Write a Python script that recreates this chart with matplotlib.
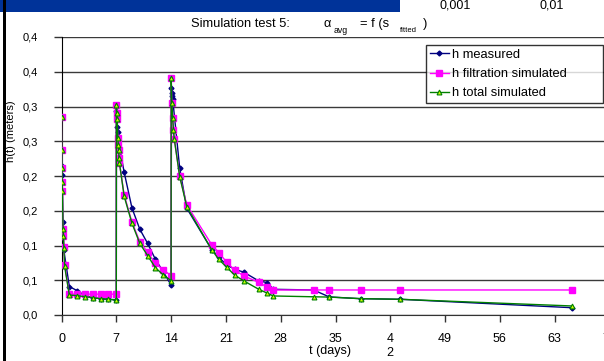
import matplotlib.pyplot as plt
from matplotlib.patches import Rectangle

plt.rcParams['font.family'] = ['Liberation Sans', 'DejaVu Sans']

# ----------------------------------------
# data
# ----------------------------------------
t_meas = [0.0, 0.04, 0.08, 0.18, 0.22, 0.3, 1, 2, 3, 4, 5, 6, 7,
          7.02, 7.06, 7.12, 7.18, 7.25, 8, 9, 10, 11, 12, 13, 14,
          14.05, 14.1, 14.15, 14.2, 15.1, 16, 19.2, 20.1, 21.1, 22.1,
          23.3, 25.2, 26.3, 27.05, 32.2, 34.2, 38.2, 43.3, 65.2]
h_meas = [0.237, 0.215, 0.202, 0.134, 0.118, 0.093, 0.041, 0.035, 0.028,
          0.025, 0.0235, 0.0225, 0.022,
          0.293, 0.281, 0.270, 0.263, 0.252, 0.2056, 0.154, 0.1235, 0.103,
          0.080, 0.0624, 0.043,
          0.327, 0.320, 0.3156, 0.311, 0.211, 0.1537, 0.0937, 0.083, 0.072,
          0.066, 0.0615, 0.049, 0.0466, 0.037, 0.036, 0.026, 0.0235, 0.0226,
          0.0105]

t_sim = [0.0, 0.03, 0.06, 0.09, 0.12, 0.2, 0.25, 0.3, 0.4, 1, 2, 3, 4, 5, 6, 7,
         7.01, 7.05, 7.1, 7.2, 7.25, 7.3, 7.35, 7.4, 8, 9, 10, 11, 12, 13, 14,
         14.01, 14.1, 14.2, 14.3, 14.4, 15.1, 16, 19.2, 20.1, 21.1, 22.1, 23.3,
         25.2, 26.3, 27.05, 32.2, 34.2, 38.2, 43.3, 65.2]
h_filt = [0.285, 0.238, 0.212, 0.192, 0.179, 0.1235, 0.113, 0.098, 0.072,
          0.030, 0.030, 0.030, 0.030, 0.030, 0.030, 0.030,
          0.302, 0.291, 0.282, 0.255, 0.245, 0.238, 0.226, 0.219, 0.173,
          0.1336, 0.1056, 0.090, 0.0745, 0.065, 0.0566,
          0.341, 0.305, 0.283, 0.2666, 0.2536, 0.200, 0.1585, 0.1009, 0.0898,
          0.076, 0.0648, 0.0562, 0.047, 0.0399, 0.036, 0.036, 0.036, 0.036,
          0.036, 0.036]
h_total = [0.285, 0.238, 0.212, 0.192, 0.179, 0.1235, 0.113, 0.097, 0.070,
           0.0288, 0.0278, 0.0264, 0.025, 0.0235, 0.0226, 0.0216,
           0.302, 0.291, 0.282, 0.255, 0.245, 0.238, 0.226, 0.219, 0.171,
           0.132, 0.103, 0.0855, 0.068, 0.0576, 0.0494,
           0.341, 0.305, 0.283, 0.2666, 0.2536, 0.199, 0.156, 0.0937, 0.080,
           0.0687, 0.0576, 0.049, 0.037, 0.0313, 0.0274, 0.0262, 0.0258,
           0.0235, 0.0226, 0.013]

x_ticks = [0, 7, 14, 21, 28, 35, 42, 49, 56, 63, 70]
x_labels = ['0', '7', '14', '21', '28', '35', '4\n2', '49', '56', '63', '70']
y_ticks = [0.0, 0.05, 0.10, 0.15, 0.20, 0.25, 0.30, 0.35, 0.40]
y_labels = ['0,0', '0,1', '0,1', '0,2', '0,2', '0,3', '0,3', '0,4', '0,4']

W, H = 604, 361


def fx(px):
    return px / W


def fy(py):
    return 1 - py / H


# ----------------------------------------
# figure
# ----------------------------------------
fig = plt.figure(figsize=(W / 100, H / 100), dpi=100)
ax = fig.add_axes([fx(61.5), fy(315), (609.5 - 61.5) / W, (315 - 37) / H])

ax.plot(t_meas, h_meas, color='#000080', lw=1, marker='D', ms=2.5,
        mfc='#000080', mec='#000080', label='h measured', zorder=3)
ax.plot(t_sim, h_filt, color='#ff00ff', lw=1, marker='s', ms=4,
        mfc='#ff00ff', mec='#ff00ff', label='h filtration simulated', zorder=4)
ax.plot(t_sim, h_total, color='#008000', lw=1, marker='^', ms=3.5,
        mfc='#ccff00', mec='#008000', mew=0.8, label='h total simulated',
        zorder=5)

ax.set_xlim(0, 70)
ax.set_ylim(0, 0.4)
ax.set_xticks(x_ticks)
ax.set_xticklabels(x_labels, fontsize=9, linespacing=1.2)
ax.set_yticks(y_ticks)
ax.set_yticklabels(y_labels, fontsize=8)
ax.tick_params(axis='x', length=5, width=1, pad=8, color='#333333')
ax.tick_params(axis='y', length=6, width=1, pad=11, color='#333333')

ax.grid(axis='y', color='#3a3a3a', lw=1)
ax.set_axisbelow(True)
for side in ['top', 'right']:
    ax.spines[side].set_visible(False)
ax.spines['left'].set_color('black')
ax.spines['bottom'].set_color('#333333')

leg = ax.legend(loc='upper left', mode='expand',
                bbox_to_anchor=(fx(425.7), fy(106), 177 / W, 61 / H),
                bbox_transform=fig.transFigure, fontsize=9.3,
                frameon=True, fancybox=False, edgecolor='black',
                borderpad=0.3, labelspacing=0.55, handlelength=1.5,
                handletextpad=0.2, borderaxespad=0)
leg.get_frame().set_linewidth(1)

# title with sub-scripts
fig.text(fx(191), fy(24), 'Simulation test 5:', fontsize=9.3, va='center')
fig.text(fx(323.5), fy(24), '\u03b1', fontsize=9.3, va='center')
fig.text(fx(334), fy(30.5), 'avg', fontsize=6.3, va='center')
fig.text(fx(360), fy(24), '= f (s', fontsize=9.3, va='center')
fig.text(fx(399.5), fy(31), 'fitted', fontsize=5.5, va='center')
fig.text(fx(422.5), fy(24), ')', fontsize=9.3, va='center')

fig.text(fx(330), fy(351), 't (days)', fontsize=9, ha='center', va='center')
fig.text(fx(11.5), fy(131), 'h(t) (meters)', fontsize=8, rotation=90,
         ha='center', va='center')

# leftovers of the neighbouring chart
fig.add_artist(Rectangle((0, fy(11.5)), fx(400), 11.5 / H,
                         transform=fig.transFigure, color='#003399', lw=0))
fig.add_artist(Rectangle((fx(2.5), 0), fx(3.5), 1,
                         transform=fig.transFigure, color='black', lw=0))
fig.text(fx(455), fy(5), '0,001', fontsize=9, ha='center', va='center')
fig.text(fx(552), fy(5), '0,01', fontsize=9, ha='center', va='center')

fig.savefig('out.png', dpi=100)
